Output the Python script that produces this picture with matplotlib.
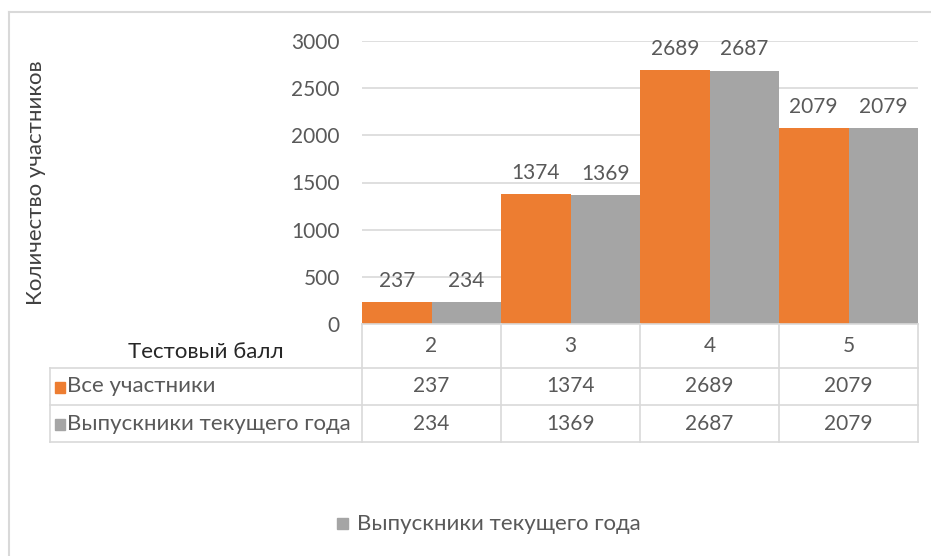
import matplotlib
matplotlib.use('Agg')
import matplotlib.pyplot as plt
from matplotlib.transforms import blended_transform_factory
from matplotlib.lines import Line2D
from matplotlib.patches import Rectangle
import numpy as np

# Data
scores = ['2', '3', '4', '5']
all_participants = [237, 1374, 2689, 2079]
graduates = [234, 1369, 2687, 2079]
series_names = ['Все участники', 'Выпускники текущего года']
y_ticks = [0, 500, 1000, 1500, 2000, 2500, 3000]

ORANGE = '#ED7D31'
GRAY = '#A5A5A5'
TXT = '#595959'
LINE = '#D9D9D9'

plt.rcParams['font.family'] = ['Lato', 'DejaVu Sans']
FS = 15
FT = 16  # words

W, H = 931, 556
fig = plt.figure(figsize=(W / 100, H / 100), dpi=100)


def fx(x):
    return x / W


def fy(y):
    return 1 - y / H


ax = fig.add_axes([fx(362), fy(324), fx(918) - fx(362), fy(41) - fy(324)])

x = np.arange(len(scores))
bw = 0.5
b1 = ax.bar(x - bw / 2, all_participants, bw, color=ORANGE, zorder=3)
b2 = ax.bar(x + bw / 2, graduates, bw, color=GRAY, zorder=3)

for bars, vals in ((b1, all_participants), (b2, graduates)):
    for r, v in zip(bars, vals):
        ax.annotate(str(v), (r.get_x() + r.get_width() / 2, v),
                    xytext=(0, 8), textcoords='offset points',
                    ha='center', va='bottom', fontsize=FS, color=TXT)

ax.set_xlim(-0.5, len(scores) - 0.5)
ax.set_ylim(0, 3000)
ax.set_yticks(y_ticks)
ax.set_yticklabels([str(t) for t in y_ticks], fontsize=FS, color=TXT)
ax.set_xticks([])
ax.tick_params(axis='y', length=0, pad=16)
ax.grid(axis='y', color=LINE, linewidth=1.2, zorder=0)
for s in ax.spines.values():
    s.set_visible(False)

# Axis title placed in figure pixels
fig.text(fx(36), fy(183), 'Количество участников', rotation=90,
         ha='center', va='center', fontsize=FT, color='#404040')

# Data table below the plot
bt = blended_transform_factory(ax.transData, fig.transFigure)
rows_y = [324, 368, 405, 442]


def hline(y, x0, x1):
    fig.add_artist(Line2D([fx(x0), fx(x1)], [fy(y), fy(y)],
                          color=LINE, linewidth=1.2))


def vline(x, y0, y1):
    fig.add_artist(Line2D([fx(x), fx(x)], [fy(y0), fy(y1)],
                          color=LINE, linewidth=1.2))


hline(324, 362, 918)
for y in rows_y[1:]:
    hline(y, 50, 918)
vline(50, 368, 442)
for b in np.arange(len(scores) + 1) - 0.5:
    xp = ax.transData.transform((b, 0))[0]
    vline(xp, 324, 442)

for i, s in enumerate(scores):
    fig.text(i, fy(346), s, transform=bt, ha='center', va='center',
             fontsize=FS, color=TXT)
for row, vals in enumerate((all_participants, graduates)):
    yc = (rows_y[row + 1] + rows_y[row + 2]) / 2
    for i, v in enumerate(vals):
        fig.text(i, fy(yc), str(v), transform=bt, ha='center', va='center',
                 fontsize=FS, color=TXT)

fig.text(fx(206), fy(352), 'Тестовый балл', ha='center', va='center',
         fontsize=FT, color='#262626')

for row, (name, col) in enumerate(zip(series_names, (ORANGE, GRAY))):
    yc = (rows_y[row + 1] + rows_y[row + 2]) / 2
    fig.add_artist(Rectangle((fx(55), fy(yc + 6)), fx(10), fy(0) - fy(11),
                             color=col))
    fig.text(fx(67), fy(yc), name, ha='left', va='center',
             fontsize=FT, color=TXT)

# Legend at the bottom (only the second series)
fig.add_artist(Rectangle((fx(337), fy(529)), fx(11), fy(0) - fy(11),
                         color=GRAY))
fig.text(fx(357), fy(524), series_names[1], ha='left', va='center',
         fontsize=FT, color=TXT)

# Chart border
fig.add_artist(Line2D([fx(9), fx(9)], [fy(12), fy(H + 5)], color=LINE,
                      linewidth=1.5))
fig.add_artist(Line2D([fx(9), fx(W + 5)], [fy(12), fy(12)], color=LINE,
                      linewidth=1.5))

fig.savefig('out.png', dpi=100)
